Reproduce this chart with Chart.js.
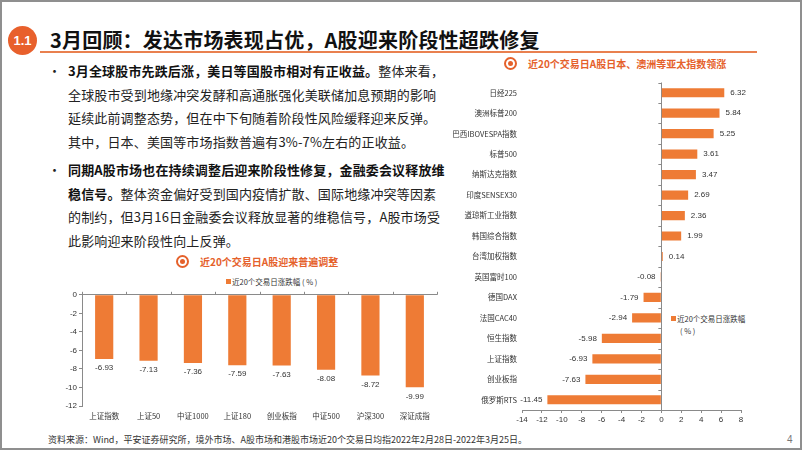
<!DOCTYPE html>
<html><head><meta charset="utf-8">
<script src="https://cdn.jsdelivr.net/npm/chart.js@4/dist/chart.umd.min.js"></script>
<style>
html,body{margin:0;padding:0;background:#fff;}
#slide{position:relative;width:802px;height:451px;overflow:hidden;background:#fff;font-family:'Noto Sans CJK SC','Liberation Sans',sans-serif;}
#frame{position:absolute;left:0;top:0;width:798px;height:446px;border:2px solid #8f8f8f;}
.abs{position:absolute;white-space:nowrap;}
#badge{left:8px;top:26px;width:29px;height:29px;border-radius:50%;background:#E8602C;color:#fff;font:bold 13px 'Liberation Sans',sans-serif;line-height:29px;text-align:center;}
#title{left:50px;top:26px;font-size:20px;font-weight:bold;line-height:28px;color:#111;letter-spacing:0.2px;}
#uline{left:40px;top:51px;width:717px;height:2px;background:#E9804F;}
.para{left:68px;font-size:13px;line-height:23.5px;color:#222;letter-spacing:0.15px;}
.para b{color:#111;}
.dot{left:48px;font-size:13px;line-height:23.5px;color:#222;}
.stitle{font-size:10px;font-weight:bold;color:#E5612B;line-height:14px;}
.ring{width:9px;height:9px;border:2px solid #E5612B;border-radius:50%;}
.ring::after{content:"";position:absolute;left:2px;top:2px;width:5px;height:5px;border-radius:50%;background:#E5612B;}
.leg{font-size:7.5px;color:#333;line-height:11px;}
.sq{width:5px;height:5px;background:#EE7B35;}
#foot{left:48px;top:433px;font-size:9px;color:#333;line-height:13px;}
#pno{left:787px;top:434px;font:10px 'Liberation Sans',sans-serif;color:#777;}
#c1wrap{position:absolute;left:40px;top:288px;width:410px;height:137px;}
#c2wrap{position:absolute;left:440px;top:73px;width:320px;height:357px;}
</style></head>
<body>
<div id="slide">
<div id="frame"></div>
<div id="badge" class="abs">1.1</div>
<div id="title" class="abs">3月回顾：发达市场表现占优，A股迎来阶段性超跌修复</div>
<div id="uline" class="abs"></div>

<div class="abs dot" style="top:59px">•</div>
<div class="abs para" style="top:59px">
<b>3月全球股市先跌后涨，美日等国股市相对有正收益。</b>整体来看，<br>
全球股市受到地缘冲突发酵和高通胀强化美联储加息预期的影响<br>
延续此前调整态势，但在中下旬随着阶段性风险缓释迎来反弹。<br>
其中，日本、美国等市场指数普遍有3%-7%左右的正收益。
</div>
<div class="abs dot" style="top:158px">•</div>
<div class="abs para" style="top:158px">
<b>同期A股市场也在持续调整后迎来阶段性修复，金融委会议释放维</b><br>
<b>稳信号。</b>整体资金偏好受到国内疫情扩散、国际地缘冲突等因素<br>
的制约，但3月16日金融委会议释放显著的维稳信号，A股市场受<br>
此影响迎来阶段性向上反弹。
</div>

<div class="abs ring" style="left:176px;top:255px"></div>
<div class="abs stitle" style="left:200px;top:255px">近20个交易日A股迎来普遍调整</div>
<div class="abs sq" style="left:226px;top:279px"></div>
<div class="abs leg" style="left:232px;top:276px">近20个交易日涨跌幅 ( % )</div>

<div class="abs ring" style="left:504px;top:57px"></div>
<div class="abs stitle" style="left:528px;top:57px">近20个交易日A股日本、澳洲等亚太指数领涨</div>
<div class="abs sq" style="left:671px;top:316px"></div>
<div class="abs leg" style="left:677px;top:313px">近20个交易日涨跌幅</div>
<div class="abs leg" style="left:680px;top:325px">( % )</div>

<div id="c1wrap"><canvas id="c1"></canvas></div>
<div id="c2wrap"><canvas id="c2"></canvas></div>

<div id="foot" class="abs">资料来源：Wind，平安证券研究所，境外市场、A股市场和港股市场近20个交易日均指2022年2月28日-2022年3月25日。</div>
<div id="pno" class="abs">4</div>
</div>
<script>
// ---- data ----
const aShareCategories = ['上证指数','上证50','中证1000','上证180','创业板指','中证500','沪深300','深证成指'];
const aShareValues = [-6.93,-7.13,-7.36,-7.59,-7.63,-8.08,-8.72,-9.99];
const globalCategories = ['日经225','澳洲标普200','巴西IBOVESPA指数','标普500','纳斯达克指数','印度SENSEX30','道琼斯工业指数','韩国综合指数','台湾加权指数','英国富时100','德国DAX','法国CAC40','恒生指数','上证指数','创业板指','俄罗斯RTS'];
const globalValues = [6.32,5.84,5.25,3.61,3.47,2.69,2.36,1.99,0.14,-0.08,-1.79,-2.94,-5.98,-6.93,-7.63,-11.45];
const seriesName = '近20个交易日涨跌幅（%）';

const BAR = '#EE7B35';
const AXIS = '#8a8a8a';
const TXT = '#333';
Chart.defaults.font.family = "'Liberation Sans','Noto Sans CJK SC',sans-serif";
Chart.defaults.color = TXT;

const valueLabels = {
  id:'valueLabels',
  afterDatasetsDraw(chart){
    const ctx = chart.ctx;
    const horiz = chart.options.indexAxis === 'y';
    const meta = chart.getDatasetMeta(0);
    const data = chart.data.datasets[0].data;
    ctx.save();
    ctx.font = "8px 'Liberation Sans',sans-serif";
    ctx.fillStyle = TXT;
    ctx.textBaseline = 'middle';
    meta.data.forEach((el,i)=>{
      const v = data[i];
      const s = v.toFixed(2);
      if (horiz){
        if (v >= 0){ ctx.textAlign='left'; ctx.fillText(s, el.x+6, el.y); }
        else { ctx.textAlign='right'; ctx.fillText(s, el.x-5, el.y); }
      } else {
        ctx.textAlign='center'; ctx.fillText(s, el.x, el.y+9);
      }
    });
    ctx.restore();
  }
};
const catTicks = {
  id:'catTicks',
  afterDatasetsDraw(chart){
    const ctx = chart.ctx;
    const horiz = chart.options.indexAxis === 'y';
    const cat = horiz ? chart.scales.y : chart.scales.x;
    const val = horiz ? chart.scales.x : chart.scales.y;
    const z = val.getPixelForValue(0);
    const n = chart.data.labels.length;
    const step = n > 1 ? (cat.getPixelForValue(1) - cat.getPixelForValue(0)) : 0;
    ctx.save();
    ctx.strokeStyle = AXIS; ctx.lineWidth = 1;
    ctx.beginPath();
    for (let i=0;i<=n;i++){
      const p = Math.round(cat.getPixelForValue(0) + (i-0.5)*step) + 0.5;
      if (horiz){ ctx.moveTo(z-3,p); ctx.lineTo(z,p); }
      else { ctx.moveTo(p,z-3); ctx.lineTo(p,z); }
    }
    ctx.stroke();
    ctx.restore();
  }
};

new Chart(document.getElementById('c1'), {
  type:'bar',
  data:{labels:aShareCategories, datasets:[{label:seriesName, data:aShareValues, backgroundColor:BAR, barPercentage:0.41, categoryPercentage:1}]},
  options:{
    responsive:true, maintainAspectRatio:false, animation:false,
    layout:{padding:{top:0,right:13,left:0,bottom:0}},
    plugins:{legend:{display:false}, tooltip:{enabled:false}},
    scales:{
      x:{
        grid:{display:false, drawTicks:false}, border:{display:false},
        ticks:{font:{size:7.5, family:"'Noto Sans CJK SC','Liberation Sans',sans-serif"}, color:TXT, padding:6, maxRotation:0, autoSkip:false},
        afterFit(s){ s.height = 19; }
      },
      y:{
        min:-12, max:0,
        ticks:{stepSize:2, font:{size:8}, color:TXT, padding:2},
        grid:{drawOnChartArea:true, color:(c)=> c.tick && c.tick.value===0 ? AXIS : 'rgba(0,0,0,0)', tickColor:AXIS, tickLength:3},
        border:{display:true, color:AXIS},
        afterFit(s){ s.width = 42; }
      }
    }
  },
  plugins:[valueLabels, catTicks]
});

new Chart(document.getElementById('c2'), {
  type:'bar',
  data:{labels:globalCategories, datasets:[{label:seriesName, data:globalValues, backgroundColor:BAR, barPercentage:0.45, categoryPercentage:1}]},
  options:{
    indexAxis:'y',
    responsive:true, maintainAspectRatio:false, animation:false,
    layout:{padding:{top:0,right:19,left:0,bottom:0}},
    plugins:{legend:{display:false}, tooltip:{enabled:false}},
    scales:{
      x:{
        min:-14, max:8,
        ticks:{stepSize:2, font:{size:8}, color:TXT, padding:2},
        grid:{drawOnChartArea:true, color:(c)=> c.tick && c.tick.value===0 ? AXIS : 'rgba(0,0,0,0)', tickColor:AXIS, tickLength:3},
        border:{display:true, color:AXIS},
        afterFit(s){ s.height = 20; }
      },
      y:{
        grid:{display:false, drawTicks:false}, border:{display:false},
        ticks:{font:{size:7.5, family:"'Noto Sans CJK SC','Liberation Sans',sans-serif"}, color:TXT, padding:5, autoSkip:false},
        afterFit(s){ s.width = 82; }
      }
    }
  },
  plugins:[valueLabels, catTicks]
});
</script>
</body></html>
